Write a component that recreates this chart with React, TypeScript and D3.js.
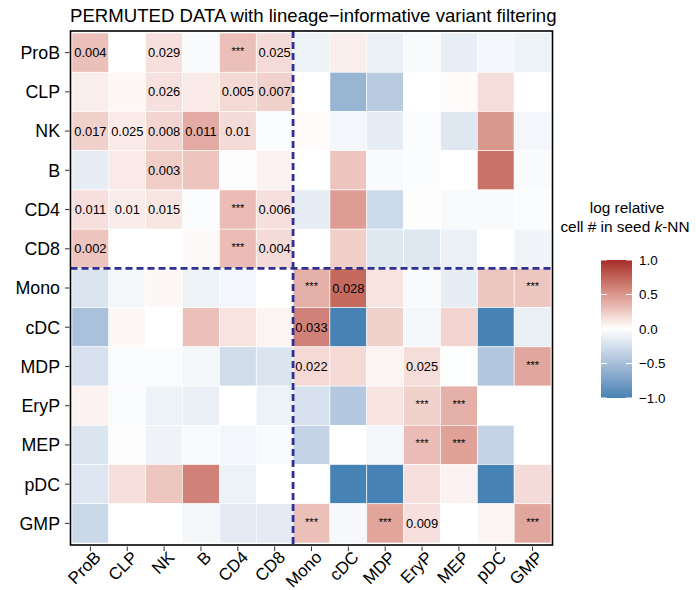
import { useMemo } from 'react';
import * as d3 from 'd3';

const cellTypes = ['ProB', 'CLP', 'NK', 'B', 'CD4', 'CD8', 'Mono', 'cDC', 'MDP', 'EryP', 'MEP', 'pDC', 'GMP'];

// log relative cell # per row (seed type), in column order above
const rowProB = [0.3, 0, 0.15, -0.04, 0.3, 0.17, -0.1, 0.08, -0.11, -0.04, -0.13, -0.07, -0.1];
const rowCLP = [0.08, 0.04, 0.14, 0.1, 0.18, 0.22, 0, -0.58, -0.4, 0, 0.02, 0.16, 0];
const rowNK = [0.22, 0.1, 0.2, 0.4, 0.17, -0.02, 0.02, -0.07, -0.14, -0.02, -0.18, 0.5, -0.07];
const rowB = [-0.14, 0.1, 0.24, 0.28, 0.01, 0.06, 0, 0.28, -0.04, -0.02, 0, 0.68, -0.04];
const rowCD4 = [0.15, 0.09, 0.12, -0.03, 0.32, 0.15, -0.14, 0.47, -0.28, 0.01, -0.04, -0.04, -0.02];
const rowCD8 = [0.28, 0, 0, 0.03, 0.32, 0.17, 0, 0.23, -0.18, -0.18, -0.11, 0, -0.08];
const rowMono = [-0.2, -0.06, 0.04, -0.1, -0.07, 0, 0.38, 0.72, 0.13, -0.04, -0.14, 0.27, 0.27];
const rowCDC = [-0.48, 0.04, 0, 0.3, 0.13, 0.05, 0.6, -1, 0.22, -0.06, 0.2, -1, -0.12];
const rowMDP = [-0.22, -0.03, -0.03, -0.06, -0.26, -0.2, 0.18, 0.18, 0.05, 0.16, -0.01, -0.44, 0.42];
const rowEryP = [0.06, -0.03, -0.1, -0.12, 0, -0.1, -0.22, -0.42, 0.13, 0.22, 0.38, 0, 0];
const rowMEP = [-0.2, 0.01, -0.09, -0.04, -0.07, -0.04, -0.33, 0, -0.06, 0.32, 0.45, -0.33, 0];
const rowPDC = [-0.19, 0.15, 0.27, 0.6, -0.1, 0, 0, -1, -1, 0.15, 0.06, -1, 0.17];
const rowGMP = [-0.3, 0, 0, -0.06, -0.15, -0.15, 0.3, -0.05, 0.43, 0.15, 0, 0.05, 0.42];

const valueRows = [rowProB, rowCLP, rowNK, rowB, rowCD4, rowCD8, rowMono, rowCDC, rowMDP, rowEryP, rowMEP, rowPDC, rowGMP];

// significance labels: [row, column, label]
const pLabels: [string, string, string][] = [
    ['ProB', 'ProB', '0.004'], ['ProB', 'NK', '0.029'], ['ProB', 'CD4', '***'], ['ProB', 'CD8', '0.025'],
    ['CLP', 'NK', '0.026'], ['CLP', 'CD4', '0.005'], ['CLP', 'CD8', '0.007'],
    ['NK', 'ProB', '0.017'], ['NK', 'CLP', '0.025'], ['NK', 'NK', '0.008'], ['NK', 'B', '0.011'], ['NK', 'CD4', '0.01'],
    ['B', 'NK', '0.003'],
    ['CD4', 'ProB', '0.011'], ['CD4', 'CLP', '0.01'], ['CD4', 'NK', '0.015'], ['CD4', 'CD4', '***'], ['CD4', 'CD8', '0.006'],
    ['CD8', 'ProB', '0.002'], ['CD8', 'CD4', '***'], ['CD8', 'CD8', '0.004'],
    ['Mono', 'Mono', '***'], ['Mono', 'cDC', '0.028'], ['Mono', 'GMP', '***'],
    ['cDC', 'Mono', '0.033'],
    ['MDP', 'Mono', '0.022'], ['MDP', 'EryP', '0.025'], ['MDP', 'GMP', '***'],
    ['EryP', 'EryP', '***'], ['EryP', 'MEP', '***'],
    ['MEP', 'EryP', '***'], ['MEP', 'MEP', '***'],
    ['GMP', 'Mono', '***'], ['GMP', 'MDP', '***'], ['GMP', 'EryP', '0.009'], ['GMP', 'GMP', '***'],
];

const legendTicks = [1, 0.5, 0, -0.5, -1];

const font = '"Liberation Sans", Arial, Helvetica, sans-serif';

const W = 696;
const H = 590;
const panel = { left: 70.5, right: 552.5, top: 31, bottom: 545 };
const tiles = { left: 72, right: 551, top: 33, bottom: 543 };
const bar = { x: 601, w: 31, top: 260, bottom: 398 };

const color = (v: number) => {
    const t = Math.max(-1, Math.min(1, v));
    return t >= 0
        ? d3.interpolateLab('#ffffff', '#A52A2A')(t)
        : d3.interpolateLab('#ffffff', '#4682B4')(-t);
};

export default function App() {
    const x = useMemo(() => d3.scaleBand().domain(cellTypes).range([tiles.left, tiles.right]), []);
    const y = useMemo(() => d3.scaleBand().domain(cellTypes).range([tiles.top, tiles.bottom]), []);
    const ly = useMemo(() => d3.scaleLinear().domain([1, -1]).range([bar.top, bar.bottom]), []);

    const cells = valueRows.flatMap((vals, r) =>
        vals.map((v, c) => ({ row: cellTypes[r], col: cellTypes[c], v }))
    );
    const splitX = (x('CD8') ?? 0) + x.bandwidth();
    const splitY = (y('CD8') ?? 0) + y.bandwidth();
    const stops = d3.range(0, 21).map(i => 1 - i / 10);

    return (
        <svg width={W} height={H} style={{ display: 'block', position: 'absolute', left: 0, top: 0 }} fontFamily={font}>
            <rect width={W} height={H} fill="#fff" />
            <defs>
                <linearGradient id="lg" x1="0" x2="0" y1="0" y2="1">
                    {stops.map((s, i) => (
                        <stop key={i} offset={`${(i / 20) * 100}%`} stopColor={color(s)} />
                    ))}
                </linearGradient>
            </defs>
            <text x={70} y={22} fontSize={18.6}>
                PERMUTED DATA with lineage−informative variant filtering
            </text>
            {cells.map(d => (
                <rect
                    key={d.row + d.col}
                    x={x(d.col)}
                    y={y(d.row)}
                    width={x.bandwidth()}
                    height={y.bandwidth()}
                    fill={color(d.v)}
                    stroke="#fff"
                    strokeWidth={0.6}
                />
            ))}
            {pLabels.map(([r, c, t]) => (
                <text
                    key={r + c}
                    x={(x(c) ?? 0) + x.bandwidth() / 2}
                    y={(y(r) ?? 0) + y.bandwidth() / 2}
                    dy={t === '***' ? '0.2em' : '0.36em'}
                    textAnchor="middle"
                    fontSize={t === '***' ? 11 : 12.9}
                >
                    {t}
                </text>
            ))}
            <line x1={splitX} x2={splitX} y1={panel.top} y2={panel.bottom} stroke="#2E3192" strokeWidth={2.8} strokeDasharray="7 4" />
            <line x1={panel.left} x2={panel.right} y1={splitY} y2={splitY} stroke="#2E3192" strokeWidth={2.8} strokeDasharray="7 4" />
            <rect
                x={panel.left}
                y={panel.top}
                width={panel.right - panel.left}
                height={panel.bottom - panel.top}
                fill="none"
                stroke="#000"
                strokeWidth={1.6}
            />
            {cellTypes.map(t => {
                const cy = (y(t) ?? 0) + y.bandwidth() / 2;
                return (
                    <g key={'y' + t}>
                        <line x1={65} x2={69.5} y1={cy} y2={cy} stroke="#333" strokeWidth={1} />
                        <text x={60} y={cy} dy="0.36em" textAnchor="end" fontSize={17.8}>
                            {t}
                        </text>
                    </g>
                );
            })}
            {cellTypes.map(t => {
                const cx = (x(t) ?? 0) + x.bandwidth() / 2;
                return (
                    <g key={'x' + t}>
                        <line x1={cx} x2={cx} y1={546.5} y2={551} stroke="#333" strokeWidth={1} />
                        <text
                            transform={`translate(${cx + 3},${550}) rotate(-45)`}
                            dy="0.7em"
                            textAnchor="end"
                            fontSize={17}
                        >
                            {t}
                        </text>
                    </g>
                );
            })}
            <text x={627} y={213} textAnchor="middle" fontSize={15.4}>
                log relative
            </text>
            <text x={625} y={232} textAnchor="middle" fontSize={15.4}>
                cell # in seed <tspan fontStyle="italic">k</tspan>-NN
            </text>
            <rect x={bar.x} y={bar.top} width={bar.w} height={bar.bottom - bar.top} fill="url(#lg)" />
            {legendTicks.map(t => (
                <g key={'l' + t}>
                    <line x1={bar.x} x2={bar.x + 6} y1={ly(t)} y2={ly(t)} stroke="#fff" strokeWidth={1} />
                    <line x1={bar.x + bar.w - 6} x2={bar.x + bar.w} y1={ly(t)} y2={ly(t)} stroke="#fff" strokeWidth={1} />
                    <text x={639} y={ly(t)} dy="0.36em" fontSize={13.4}>
                        {d3.format('.1f')(t).replace('-', '−')}
                    </text>
                </g>
            ))}
        </svg>
    );
}
